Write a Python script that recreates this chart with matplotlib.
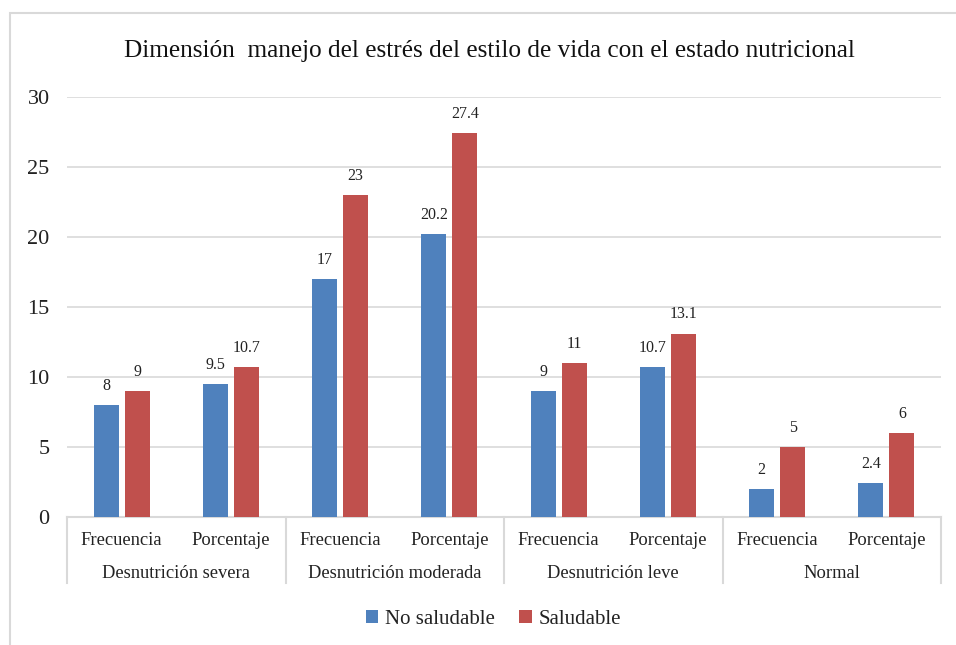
import numpy as np
import matplotlib
matplotlib.use('Agg')
import matplotlib.pyplot as plt
from matplotlib.patches import Rectangle

plt.rcParams['font.family'] = ['Liberation Serif', 'DejaVu Serif']

grupos = ['Desnutrición severa', 'Desnutrición moderada', 'Desnutrición leve', 'Normal']
subcats = ['Frecuencia', 'Porcentaje']
no_saludable = [8, 9.5, 17, 20.2, 9, 10.7, 2, 2.4]
saludable = [9, 10.7, 23, 27.4, 11, 13.1, 5, 6]
etiq_no = ['8', '9.5', '17', '20.2', '9', '10.7', '2', '2.4']
etiq_si = ['9', '10.7', '23', '27.4', '11', '13.1', '5', '6']

azul = '#4F81BD'
rojo = '#C0504D'
gris = '#D9D9D9'

fig = plt.figure(figsize=(9.56, 6.45), dpi=100)
ax = fig.add_axes([67/956, 1-517/645, (941-67)/956, (517-97)/645])

x = np.arange(len(no_saludable))
w = 0.23
off = 0.142
b1 = ax.bar(x - off, no_saludable, w, color=azul, label='No saludable', zorder=3)
b2 = ax.bar(x + off, saludable, w, color=rojo, label='Saludable', zorder=3)

for rects, labs in ((b1, etiq_no), (b2, etiq_si)):
    for r, t in zip(rects, labs):
        ax.annotate(t, (r.get_x() + r.get_width()/2, r.get_height()),
                    xytext=(0, 8), textcoords='offset points',
                    ha='center', va='bottom', fontsize=11.5, color='#222222')

ax.set_xlim(-0.5, len(x) - 0.5)
ax.set_ylim(0, 30)
ax.set_yticks(range(0, 31, 5))
ax.tick_params(axis='y', length=0, pad=12.5, labelsize=16, labelcolor='#222222')
ax.tick_params(axis='x', length=0, labelbottom=False)
ax.yaxis.grid(True, color=gris, linewidth=1.2, zorder=0)
for s in ['top', 'right', 'left']:
    ax.spines[s].set_visible(False)
ax.spines['bottom'].set_color(gris)
ax.spines['bottom'].set_linewidth(1.5)

# etiquetas de categorias en dos niveles
trans = ax.get_xaxis_transform()
for i in x:
    ax.text(i, -0.055, subcats[i % 2], transform=trans, ha='center', va='center',
            fontsize=13.3, color='#222222')
for g, nombre in enumerate(grupos):
    ax.text(2*g + 0.5, -0.135, nombre, transform=trans, ha='center', va='center',
            fontsize=13.3, color='#222222')
for b in range(len(grupos) + 1):
    ax.plot([2*b - 0.5, 2*b - 0.5], [0, -66/420], transform=trans, color=gris,
            linewidth=1.5, clip_on=False)

leg = fig.legend(handles=[b1, b2], loc='center', bbox_to_anchor=(0.516, 1-619/645),
                 ncol=2, frameon=False, fontsize=15, handlelength=0.6, handleheight=0.6,
                 handletextpad=0.3, columnspacing=1.2)
for t in leg.get_texts():
    t.set_color('#222222')

fig.text(0.512, 1-51/645, 'Dimensión  manejo del estrés del estilo de vida con el estado nutricional',
         ha='center', va='center', fontsize=18.2, color='#111111')

fig.patches.append(Rectangle((10/956, -0.1), 1.2, 1-13/645 + 0.1, transform=fig.transFigure,
                             fill=False, edgecolor=gris, linewidth=1.5))

fig.savefig('out.png', dpi=100)
